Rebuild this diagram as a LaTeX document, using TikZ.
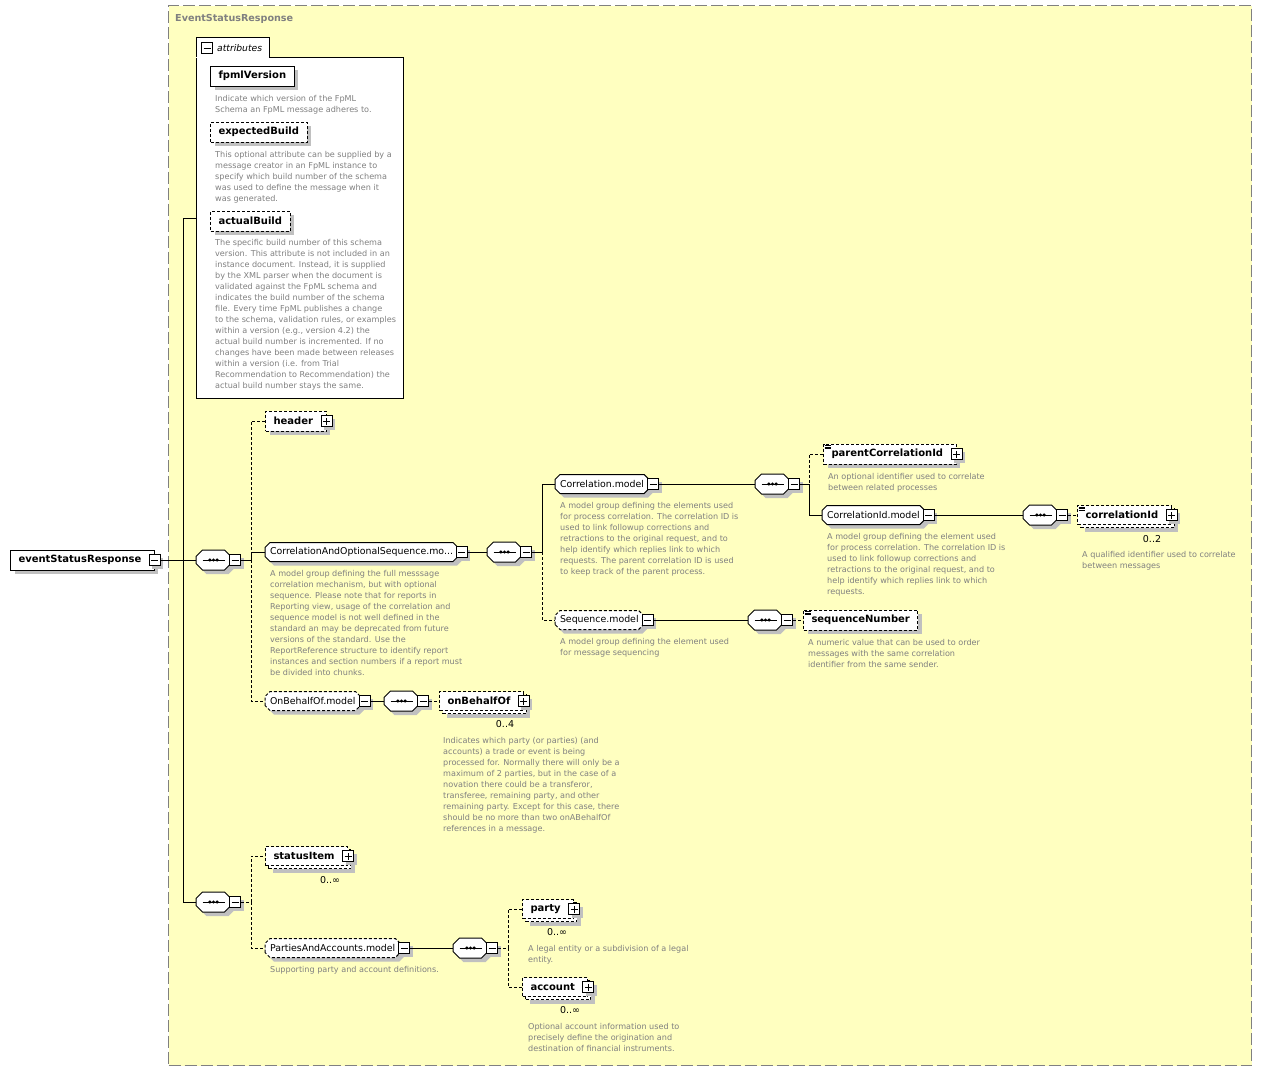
\documentclass[tikz,border=0pt]{standalone}
\usepackage{fontspec}
\setmainfont{DejaVu Sans}
\usepackage{tikz}
\usetikzlibrary{positioning, calc, shadows}
\definecolor{framefill}{RGB}{255,255,192}
\definecolor{framegray}{RGB}{128,128,128}
\definecolor{notegray}{RGB}{128,128,128}
\definecolor{shadowgray}{RGB}{192,192,192}
% a rectangle with cut corners
\makeatletter
\newdimen\cutl \newdimen\cutxa \newdimen\cutya \newdimen\cutxb \newdimen\cutyb
\pgfkeys{/pgf/chamfer cut/.initial=4pt}
\pgfdeclareshape{cut box}{
  \inheritsavedanchors[from=rectangle]
  \inheritanchorborder[from=rectangle]
  \inheritanchor[from=rectangle]{center}
  \inheritanchor[from=rectangle]{north}
  \inheritanchor[from=rectangle]{south}
  \inheritanchor[from=rectangle]{east}
  \inheritanchor[from=rectangle]{west}
  \inheritanchor[from=rectangle]{north east}
  \inheritanchor[from=rectangle]{north west}
  \inheritanchor[from=rectangle]{south east}
  \inheritanchor[from=rectangle]{south west}
  \backgroundpath{
    \pgfmathsetlength\cutl{\pgfkeysvalueof{/pgf/chamfer cut}}
    \southwest \cutxa=\pgf@x \cutya=\pgf@y
    \northeast \cutxb=\pgf@x \cutyb=\pgf@y
    \pgfpathmoveto{\pgfqpoint{\cutxa}{\dimexpr\cutya+\cutl\relax}}
    \pgfpathlineto{\pgfqpoint{\cutxa}{\dimexpr\cutyb-\cutl\relax}}
    \pgfpathlineto{\pgfqpoint{\dimexpr\cutxa+\cutl\relax}{\cutyb}}
    \pgfpathlineto{\pgfqpoint{\dimexpr\cutxb-\cutl\relax}{\cutyb}}
    \pgfpathlineto{\pgfqpoint{\cutxb}{\dimexpr\cutyb-\cutl\relax}}
    \pgfpathlineto{\pgfqpoint{\cutxb}{\dimexpr\cutya+\cutl\relax}}
    \pgfpathlineto{\pgfqpoint{\dimexpr\cutxb-\cutl\relax}{\cutya}}
    \pgfpathlineto{\pgfqpoint{\dimexpr\cutxa+\cutl\relax}{\cutya}}
    \pgfpathclose
  }
}
\makeatother
\tikzset{elem/.style={rectangle,draw,fill=white,line width=1pt,font=\bfseries\fontsize{10}{12}\selectfont,minimum height=20pt,inner xsep=8pt,inner ysep=0pt,drop shadow={shadow xshift=4pt,shadow yshift=-4pt,fill=shadowgray,opacity=1}},
         optelem/.style={elem,dash pattern=on 3pt off 2pt},
         multielem/.style={rectangle,draw,fill=white,line width=1pt,dash pattern=on 3pt off 2pt,font=\bfseries\fontsize{10}{12}\selectfont,minimum height=19pt,inner xsep=8pt,inner ysep=0pt,
           preaction={fill=shadowgray,draw=none,transform canvas={shift={(7pt,-7pt)}}},
           preaction={draw,fill=white,line width=1pt,dash pattern=on 3pt off 2pt,transform canvas={shift={(3pt,-3pt)}}}},
         tail/.style={execute at end node={\hspace*{5pt}}},
         typed/.style={path picture={\foreach \k in {1.5,3,4.5} \draw[solid,line width=0.7pt] ([xshift=1pt,yshift=-\k pt]path picture bounding box.north west) -- ++(6pt,0);}},
         grp/.style={cut box,chamfer cut=5pt,draw,fill=white,line width=1pt,outer sep=0pt,font=\fontsize{9.4}{11}\selectfont,minimum height=19pt,inner xsep=5pt,inner ysep=0pt,drop shadow={shadow xshift=4pt,shadow yshift=-4pt,fill=shadowgray,opacity=1}},
         optgrp/.style={grp,dash pattern=on 3pt off 2pt},
         seqbox/.style={cut box,chamfer cut=6.5pt,draw,fill=white,line width=1pt,outer sep=0pt,minimum width=35pt,minimum height=20pt,inner sep=0pt,drop shadow={shadow xshift=4pt,shadow yshift=-4pt,fill=shadowgray,opacity=1},
           path picture={\draw[black,line width=1pt] ([xshift=-11pt]path picture bounding box.center) -- ([xshift=11pt]path picture bounding box.center);
             \foreach \d in {-3.6,0,3.6} \fill[black] ([xshift=\d pt]path picture bounding box.center) circle (1.7pt);}},
         flatminus/.style={rectangle,draw,fill=white,line width=1pt,minimum size=11pt,inner sep=0pt,
           path picture={\draw[line width=1pt] ([xshift=-3.5pt]path picture bounding box.center) -- ([xshift=3.5pt]path picture bounding box.center);}},
         minusbox/.style={flatminus,drop shadow={shadow xshift=3pt,shadow yshift=-3pt,fill=shadowgray,opacity=1}},
         plusbox/.style={minusbox,
           path picture={\draw[line width=1pt] ([xshift=-3.5pt]path picture bounding box.center) -- ([xshift=3.5pt]path picture bounding box.center);
             \draw[line width=1pt] ([yshift=-3.5pt]path picture bounding box.center) -- ([yshift=3.5pt]path picture bounding box.center);}},
         note/.style={inner sep=0pt,align=left,font=\fontsize{8.1}{11}\selectfont,text=notegray},
         card/.style={inner sep=0pt,font=\fontsize{9.5}{11}\selectfont},
         outerframe/.style={rectangle,draw=framegray,fill=framefill,line width=1pt,dash pattern=on 12pt off 4pt},
         attrbox/.style={rectangle,draw,fill=white,line width=1pt},
         link/.style={line width=1pt},
         optlink/.style={link,dash pattern=on 3pt off 2pt}}
\begin{document}
\begin{tikzpicture}[x=1pt,y=-1pt]
  \useasboundingbox (0,0) rectangle (1262,1071);
  \node (frame) [outerframe, minimum width=1083pt, minimum height=1060pt, anchor=north west] at (168,5) {};
  \node (title) [anchor=west, inner sep=0pt, font=\bfseries\fontsize{9.6}{11}\selectfont, text=framegray] at (175,19) {EventStatusResponse};

  % attributes panel
  \node (attr) [attrbox, minimum width=207pt, minimum height=341pt, anchor=north west] at (196,57) {};
  \node (tab) [fill=white, minimum width=73pt, minimum height=20pt, inner sep=0pt, anchor=south west] at ([yshift=-1pt]attr.north west) {};
  \draw[link] (attr.north west) |- (tab.north east) |- (attr.north);
  \node (tabm) [flatminus, anchor=west] at (201,48) {};
  \node (tabtext) [right=4pt of tabm, inner sep=0pt, font=\itshape\fontsize{9.2}{11}\selectfont] {attributes};
  \coordinate (attrport) at ([yshift=9.5pt]attr.west);

  \node (fpml) [elem, anchor=west] at (210,76) {fpmlVersion};
  \node (fpmlnote) [note, below=9pt of fpml.south west, anchor=north west, xshift=5pt] {Indicate which version of the FpML\\Schema an FpML message adheres to.};
  \node (xbuild) [optelem, anchor=west] at (210,132) {expectedBuild};
  \node (xbuildnote) [note, below=9pt of xbuild.south west, anchor=north west, xshift=5pt] {This optional attribute can be supplied by a\\message creator in an FpML instance to\\specify which build number of the schema\\was used to define the message when it\\was generated.};
  \node (abuild) [optelem, anchor=west] at (210,221) {actualBuild};
  \node (abuildnote) [note, below=8pt of abuild.south west, anchor=north west, xshift=5pt] {The specific build number of this schema\\version. This attribute is not included in an\\instance document. Instead, it is supplied\\by the XML parser when the document is\\validated against the FpML schema and\\indicates the build number of the schema\\file. Every time FpML publishes a change\\to the schema, validation rules, or examples\\within a version (e.g., version 4.2) the\\actual build number is incremented. If no\\changes have been made between releases\\within a version (i.e. from Trial\\Recommendation to Recommendation) the\\actual build number stays the same.};

  % root element
  \node (root) [elem, tail, anchor=west] at (10,560) {eventStatusResponse};
  \node (rootm) [minusbox, right=-6pt of root] {};

  % first sequence
  \node (seq1) [seqbox, anchor=west] at (196,560) {};
  \node (seq1m) [minusbox, right=-2pt of seq1] {};
  \node (header) [optelem, tail, anchor=west] at (265,421) {header};
  \node (headerp) [plusbox, right=-6pt of header] {};
  \node (cas) [grp, anchor=west] at (265,552) {CorrelationAndOptionalSequence.mo...};
  \node (casm) [minusbox, right=-2pt of cas] {};
  \node (casnote) [note, below=9pt of cas.south west, anchor=north west, xshift=5pt] {A model group defining the full messsage\\correlation mechanism, but with optional\\sequence. Please note that for reports in\\Reporting view, usage of the correlation and\\sequence model is not well defined in the\\standard an may be deprecated from future\\versions of the standard. Use the\\ReportReference structure to identify report\\instances and section numbers if a report must\\be divided into chunks.};

  \node (seq2) [seqbox, anchor=west] at (487,552) {};
  \node (seq2m) [minusbox, right=-2pt of seq2] {};
  \node (corr) [grp, anchor=west] at (555,484) {Correlation.model};
  \node (corrm) [minusbox, right=-2pt of corr] {};
  \node (corrnote) [note, below=9pt of corr.south west, anchor=north west, xshift=5pt] {A model group defining the elements used\\for process correlation. The correlation ID is\\used to link followup corrections and\\retractions to the original request, and to\\help identify which replies link to which\\requests. The parent correlation ID is used\\to keep track of the parent process.};

  \node (seq3) [seqbox, anchor=west] at (755,484) {};
  \node (seq3m) [minusbox, right=-2pt of seq3] {};
  \node (pcid) [optelem, typed, tail, anchor=west] at (823,454) {parentCorrelationId};
  \node (pcidp) [plusbox, right=-6pt of pcid] {};
  \node (pcidnote) [note, below=9pt of pcid.south west, anchor=north west, xshift=5pt] {An optional identifier used to correlate\\between related processes};
  \node (cidm) [grp, anchor=west] at (822,515) {CorrelationId.model};
  \node (cidmm) [minusbox, right=-2pt of cidm] {};
  \node (cidmnote) [note, below=9pt of cidm.south west, anchor=north west, xshift=5pt] {A model group defining the element used\\for process correlation. The correlation ID is\\used to link followup corrections and\\retractions to the original request, and to\\help identify which replies link to which\\requests.};

  \node (seq4) [seqbox, anchor=west] at (1023,515) {};
  \node (seq4m) [minusbox, right=-2pt of seq4] {};
  \node (cid) [multielem, typed, tail, anchor=west] at (1077,515) {correlationId};
  \node (cidp) [plusbox, right=-6pt of cid] {};
  \node (cidcard) [card] at (1152,539) {0..2};
  \node (cidnote) [note, below=26pt of cid.south west, anchor=north west, xshift=5pt] {A qualified identifier used to correlate\\between messages};

  \node (seqm) [optgrp, anchor=west] at (555,620) {Sequence.model};
  \node (seqmm) [minusbox, right=-2pt of seqm] {};
  \node (seqmnote) [note, below=9pt of seqm.south west, anchor=north west, xshift=5pt] {A model group defining the element used\\for message sequencing};
  \node (seq5) [seqbox, anchor=west] at (748,620) {};
  \node (seq5m) [minusbox, right=-2pt of seq5] {};
  \node (snum) [optelem, typed, anchor=west] at (803,620) {sequenceNumber};
  \node (snumnote) [note, below=9pt of snum.south west, anchor=north west, xshift=5pt] {A numeric value that can be used to order\\messages with the same correlation\\identifier from the same sender.};

  \node (obm) [optgrp, anchor=west] at (265,701) {OnBehalfOf.model};
  \node (obmm) [minusbox, right=-2pt of obm] {};
  \node (seq6) [seqbox, anchor=west] at (384,701) {};
  \node (seq6m) [minusbox, right=-2pt of seq6] {};
  \node (obo) [multielem, tail, anchor=west] at (439,701) {onBehalfOf};
  \node (obop) [plusbox, right=-6pt of obo] {};
  \node (obocard) [card] at (505,724) {0..4};
  \node (obonote) [note, below=26pt of obo.south west, anchor=north west, xshift=4pt] {Indicates which party (or parties) (and\\accounts) a trade or event is being\\processed for. Normally there will only be a\\maximum of 2 parties, but in the case of a\\novation there could be a transferor,\\transferee, remaining party, and other\\remaining party. Except for this case, there\\should be no more than two onABehalfOf\\references in a message.};

  % second sequence
  \node (seq7) [seqbox, anchor=west] at (196,902) {};
  \node (seq7m) [minusbox, right=-2pt of seq7] {};
  \node (sitem) [multielem, tail, anchor=west] at (265,856) {statusItem};
  \node (sitemp) [plusbox, right=-6pt of sitem] {};
  \node (sitemcard) [card] at (330,880) {0..∞};
  \node (paa) [optgrp, anchor=west] at (265,948) {PartiesAndAccounts.model};
  \node (paam) [minusbox, right=-2pt of paa] {};
  \node (paanote) [note, below=9pt of paa.south west, anchor=north west, xshift=5pt] {Supporting party and account definitions.};
  \node (seq8) [seqbox, anchor=west] at (453,948) {};
  \node (seq8m) [minusbox, right=-2pt of seq8] {};
  \node (party) [multielem, tail, anchor=west] at (522,909) {party};
  \node (partyp) [plusbox, right=-6pt of party] {};
  \node (partycard) [card] at (557,932) {0..∞};
  \node (partynote) [note, below=26pt of party.south west, anchor=north west, xshift=6pt] {A legal entity or a subdivision of a legal\\entity.};
  \node (acct) [multielem, tail, anchor=west] at (522,987) {account};
  \node (acctp) [plusbox, right=-6pt of acct] {};
  \node (acctcard) [card] at (570,1010) {0..∞};
  \node (acctnote) [note, below=26pt of acct.south west, anchor=north west, xshift=6pt] {Optional account information used to\\precisely define the origination and\\destination of financial instruments.};

  % optional branches
  \draw[optlink] (seq1m.east) -- ++(10,0) |- (header.west);
  \draw[optlink] (seq1m.east) -- ++(10,0) |- (obm.west);
  \draw[optlink] (seq2m.east) -- ++(10,0) |- (seqm.west);
  \draw[optlink] (seq3m.east) -- ++(9,0) |- (pcid.west);
  \draw[optlink] (seq4m.east) -- (cid.west);
  \draw[optlink] (seq5m.east) -- (snum.west);
  \draw[optlink] (seq6m.east) -- (obo.west);
  \draw[optlink] (seq7m.east) -- ++(10,0) |- (sitem.west);
  \draw[optlink] (seq7m.east) -- ++(10,0) |- (paa.west);
  \draw[optlink] (seq8m.east) -- ++(10,0) |- (party.west);
  \draw[optlink] (seq8m.east) -- ++(10,0) |- (acct.west);
  % required branches
  \draw[link] (rootm.east) -- ++(23,0) |- (attrport);
  \draw[link] (rootm.east) -- (seq1.west);
  \draw[link] (rootm.east) -- ++(23,0) |- (seq7.west);
  \draw[link] (seq1m.east) -- ++(10,0) |- (cas.west);
  \draw[link] (casm.east) -- (seq2.west);
  \draw[link] (seq2m.east) -- ++(10,0) |- (corr.west);
  \draw[link] (corrm.east) -- (seq3.west);
  \draw[link] (seq3m.east) -- ++(9,0) |- (cidm.west);
  \draw[link] (cidmm.east) -- (seq4.west);
  \draw[link] (seqmm.east) -- (seq5.west);
  \draw[link] (obmm.east) -- (seq6.west);
  \draw[link] (paam.east) -- (seq8.west);
\end{tikzpicture}
\end{document}
